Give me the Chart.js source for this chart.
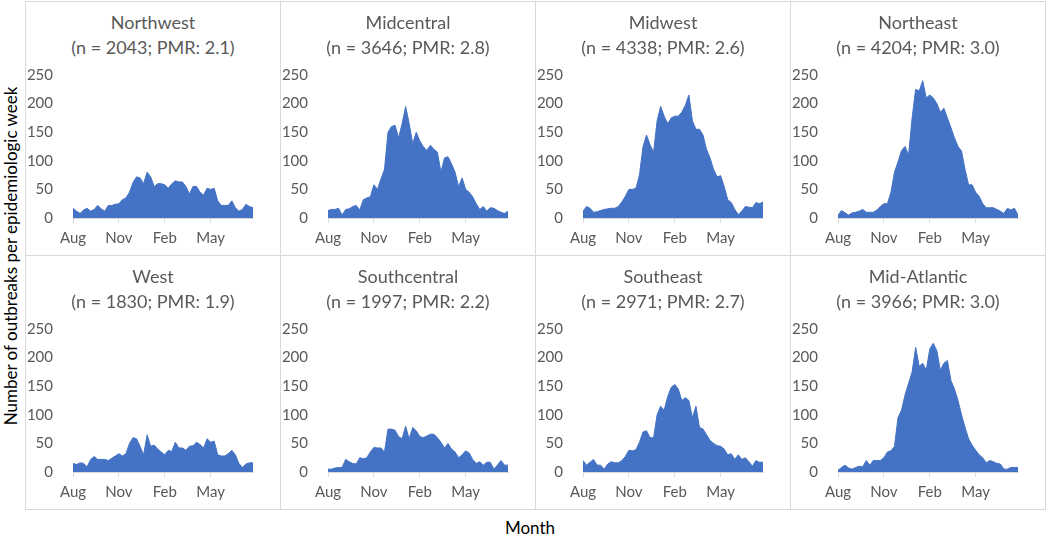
<!DOCTYPE html>
<html>
<head>
<meta charset="utf-8">
<script src="https://cdn.jsdelivr.net/npm/chart.js@4.4.1/dist/chart.umd.min.js"></script>
<style>
  body { margin:0; background:#fff; width:1050px; height:536px; position:relative; overflow:hidden; font-family:'Lato', 'Open Sans', sans-serif; }
  .panel { position:absolute; width:256px; height:255px; box-sizing:border-box; border:1px solid #d9d9d9; background:#fff; }
  .panel canvas { position:absolute; left:0; top:0; }
  .ttl { position:absolute; left:0; right:0; top:8px; text-align:center; color:#595959; font-size:18px; line-height:25px; }
  #ylab { position:absolute; left:10px; top:256px; transform:translate(-50%,-50%) rotate(-90deg); white-space:nowrap; font-size:17px; color:#000; }
  #xlab { position:absolute; left:530px; top:527px; transform:translate(-50%,-50%); font-size:17px; color:#000; }
</style>
</head>
<body>
<div id="ylab">Number of outbreaks per epidemiologic week</div>
<div id="xlab">Month</div>
<script>
// Semanas epidemiológicas (agosto a julho), 52 pontos por região
const regioes = ['Northwest','Midcentral','Midwest','Northeast','West','Southcentral','Southeast','Mid-Atlantic'];
const subtitulos = ['(n = 2043; PMR: 2.1)','(n = 3646; PMR: 2.8)','(n = 4338; PMR: 2.6)','(n = 4204; PMR: 3.0)',
                    '(n = 1830; PMR: 1.9)','(n = 1997; PMR: 2.2)','(n = 2971; PMR: 2.7)','(n = 3966; PMR: 3.0)'];
const mesesLabels = ['Aug','Nov','Feb','May'];
const mesesSemana = [0, 13, 26, 39];
const yTicks = [0, 50, 100, 150, 200, 250];

const northwest = [17,12,8,14,17,12,15,22,16,12,22,22,24,25,32,35,45,62,72,70,60,80,72,55,60,60,
                   58,52,60,65,63,63,55,42,55,55,45,40,52,50,52,30,22,22,22,30,18,12,15,24,20,18];
const midcentral = [13,15,15,17,5,15,16,20,22,14,32,35,37,58,50,68,85,150,160,162,140,165,195,165,130,150,
                    135,125,118,127,120,115,80,105,107,95,80,55,70,50,45,37,25,15,20,12,18,17,13,10,8,12];
const midwest = [12,20,17,10,11,13,15,16,17,17,20,28,38,50,50,52,75,125,145,128,115,170,195,178,165,175,
                 178,178,185,197,215,170,155,155,145,120,105,85,72,74,55,32,27,15,6,12,20,19,18,27,25,28];
const northeast = [5,13,9,5,9,10,12,15,10,10,10,14,20,25,25,45,80,98,118,125,110,175,225,222,240,210,
                   215,210,200,185,192,175,158,140,125,117,85,58,58,45,38,25,18,18,18,15,12,8,17,14,17,5];
const west = [15,13,16,15,9,22,27,22,22,22,20,24,28,32,28,32,50,60,58,45,30,65,45,47,40,35,
              30,38,36,52,42,42,38,45,46,52,48,42,58,52,54,30,28,28,32,38,30,15,8,14,16,16];
const southcentral = [5,5,7,8,8,22,18,15,14,25,23,25,35,43,42,42,35,75,75,73,62,58,80,58,78,72,
                      62,60,63,66,66,60,52,42,50,40,35,25,30,37,33,22,15,18,12,17,17,5,12,20,12,12];
const southeast = [20,12,17,22,12,12,5,14,18,16,16,20,27,38,37,39,52,70,72,60,60,100,115,108,132,148,
                   153,145,125,130,125,95,115,78,75,65,55,50,46,45,40,30,32,22,30,22,25,18,10,20,17,17];
const midAtlantic = [3,8,12,7,5,8,10,9,20,12,20,20,20,25,35,37,45,95,108,135,155,175,218,185,190,178,
                     215,225,212,178,190,195,160,145,125,100,78,58,47,38,30,25,16,20,18,15,14,5,5,8,8,8];

const series = [northwest, midcentral, midwest, northeast, west, southcentral, southeast, midAtlantic];

const corArea = '#4472C4';
const corTexto = '#595959';
const corEixo = '#d9d9d9';
const fonteTick = { family: "'Lato', 'Open Sans', sans-serif", size: 15 };

const PW = 256, PH = 255;

function criaPainel(i) {
  const col = i % 4, lin = Math.floor(i / 4);
  const div = document.createElement('div');
  div.className = 'panel';
  div.style.left = (25 + col * 255) + 'px';
  div.style.top = (1 + lin * 254) + 'px';
  div.innerHTML = `<div class="ttl">${regioes[i]}<br>${subtitulos[i]}</div><canvas width="${PW}" height="${PH}"></canvas>`;
  document.body.appendChild(div);

  const pontos = series[i].map((v, k) => ({ x: k, y: v }));
  new Chart(div.querySelector('canvas').getContext('2d'), {
    type: 'line',
    data: {
      datasets: [{ data: pontos, fill: 'origin', backgroundColor: corArea, borderColor: corArea,
                   borderWidth: 1, pointRadius: 0, tension: 0 }]
    },
    options: {
      responsive: false, animation: false, events: [],
      layout: { padding: { top: 73, right: 29, left: 0, bottom: 0 } },
      plugins: { legend: { display: false }, tooltip: { enabled: false }, title: { display: false } },
      scales: {
        x: {
          type: 'linear', min: 0, max: series[i].length - 1,
          afterBuildTicks: s => { s.ticks = mesesSemana.map(v => ({ value: v })); },
          afterFit: s => { s.height = 39; },
          ticks: { callback: v => mesesLabels[mesesSemana.indexOf(v)], font: fonteTick, color: corTexto,
                   padding: 6, maxRotation: 0, autoSkip: false },
          grid: { drawOnChartArea: false, drawTicks: true, tickLength: 5, color: corEixo },
          border: { display: true, color: corEixo, width: 1 }
        },
        y: {
          min: 0, max: 250,
          afterBuildTicks: s => { s.ticks = yTicks.map(v => ({ value: v })); },
          afterFit: s => { s.width = 47; },
          ticks: { font: fonteTick, color: corTexto, padding: 12 },
          grid: { display: false },
          border: { display: false }
        }
      }
    }
  });
}

regioes.forEach((_, i) => criaPainel(i));
</script>
</body>
</html>
